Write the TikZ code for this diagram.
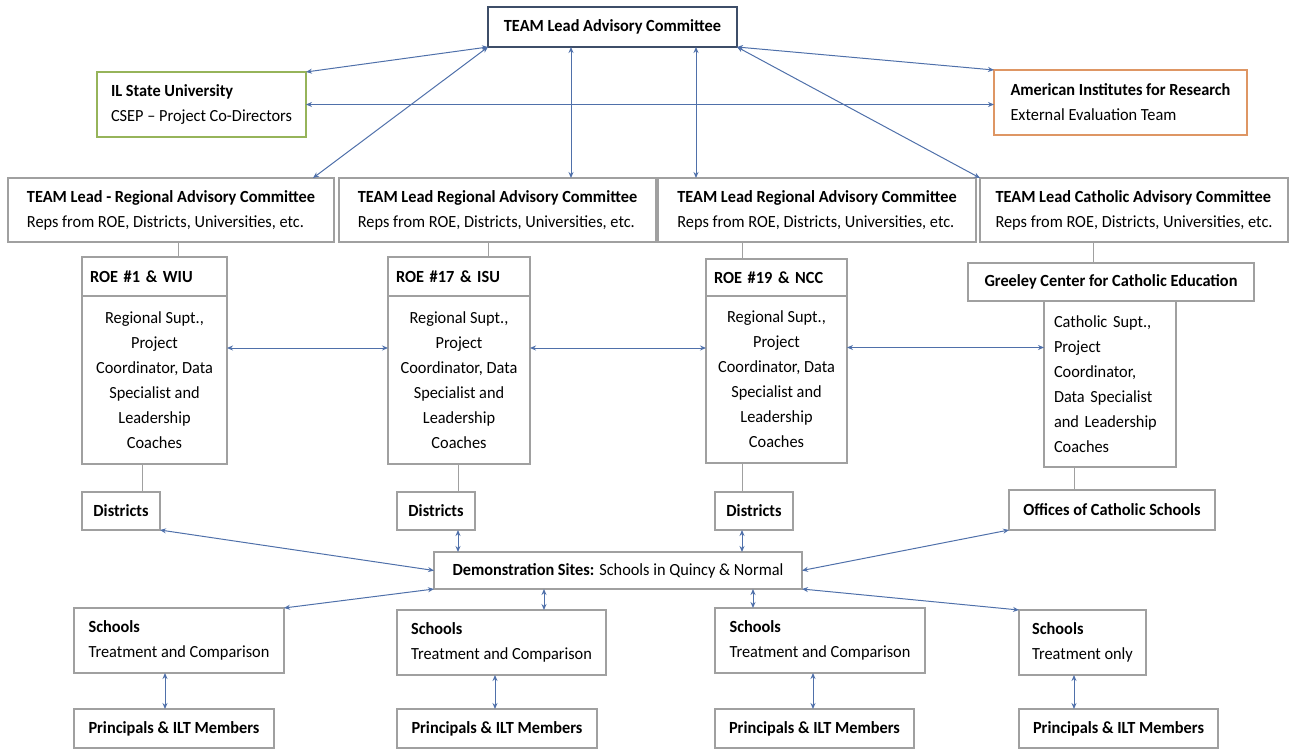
\documentclass[tikz,border=0pt]{standalone}
\usepackage{fontspec}
\setmainfont{Carlito}[FakeStretch=0.96]
\usetikzlibrary{arrows.meta}
\definecolor{boxgray}{RGB}{160,160,160}
\definecolor{arrblue}{RGB}{79,112,170}
\definecolor{topblue}{RGB}{62,78,104}
\definecolor{ilgreen}{RGB}{150,180,90}
\definecolor{airorange}{RGB}{222,150,100}

\begin{document}
\begin{tikzpicture}[x=1pt,y=-1pt,font=\fontsize{17}{25}\selectfont,
  box/.style={draw=boxgray,line width=1.3pt,anchor=north west,inner xsep=8pt,inner ysep=0pt,outer sep=0pt},
  lbox/.style={box,align=left},
  cbox/.style={box,align=center},
  link/.style={draw=boxgray,line width=1pt},
  arr/.style={draw=arrblue,line width=1pt,{Stealth[length=6pt,width=5pt]}-{Stealth[length=6pt,width=5pt]}}]
\useasboundingbox (0,0) rectangle (1290,751);

% top level
\node[cbox,draw=topblue,minimum width=249pt,minimum height=40pt] (lead) at (488,7) {\textbf{TEAM Lead Advisory Committee}};
\node[lbox,draw=ilgreen,minimum width=209pt,minimum height=65pt] (isu) at (97,72) {\textbf{IL State University}\\CSEP – Project Co-Directors};
\node[lbox,draw=airorange,minimum width=253pt,minimum height=65pt] (air) at (994,70) {\textbf{American Institutes for Research}\\External Evaluation Team};

% advisory committees
\node[lbox,minimum width=326pt,minimum height=64pt] (reg1) at (8,178) {\textbf{TEAM Lead - Regional Advisory Committee}\\Reps from ROE, Districts, Universities, etc.};
\node[lbox,minimum width=317pt,minimum height=64pt] (reg2) at (339,178) {\textbf{TEAM Lead Regional Advisory Committee}\\Reps from ROE, Districts, Universities, etc.};
\node[lbox,minimum width=318pt,minimum height=64pt] (reg3) at (658,178) {\textbf{TEAM Lead Regional Advisory Committee}\\Reps from ROE, Districts, Universities, etc.};
\node[lbox,minimum width=308pt,minimum height=64pt] (reg4) at (980,178) {\textbf{TEAM Lead Catholic Advisory Committee}\\Reps from ROE, Districts, Universities, etc.};

% regional offices
\node[lbox,text width=129pt,minimum height=39pt] (roe1h) at (82,257) {\textbf{ROE \#1 \& WIU}};
\node[cbox,minimum width=145pt,minimum height=168pt,inner xsep=2pt] (roe1b) at (82,296) {Regional Supt.,\\Project\\Coordinator, Data\\Specialist and\\Leadership\\Coaches};
\node[lbox,text width=126pt,minimum height=39pt] (roe17h) at (388,257) {\textbf{ROE \#17 \& ISU}};
\node[cbox,minimum width=142pt,minimum height=168pt,inner xsep=2pt] (roe17b) at (388,296) {Regional Supt.,\\Project\\Coordinator, Data\\Specialist and\\Leadership\\Coaches};
\node[lbox,text width=125pt,minimum height=37pt] (roe19h) at (706,259) {\textbf{ROE \#19 \& NCC}};
\node[cbox,minimum width=141pt,minimum height=167pt,inner xsep=2pt] (roe19b) at (706,296) {Regional Supt.,\\Project\\Coordinator, Data\\Specialist and\\Leadership\\Coaches};
\node[cbox,minimum width=286pt,minimum height=38pt] (greh) at (968,263) {\textbf{Greeley Center for Catholic Education}};
\node[lbox,text width=112pt,minimum height=166pt,inner xsep=10pt] (greb) at (1044,301) {Catholic Supt.,\\Project\\Coordinator,\\Data Specialist\\and Leadership\\Coaches};

% districts and sites
\node[cbox,minimum width=78pt,minimum height=38pt] (dist1) at (82,492) {\textbf{Districts}};
\node[cbox,minimum width=78pt,minimum height=38pt] (dist2) at (397,492) {\textbf{Districts}};
\node[cbox,minimum width=78pt,minimum height=38pt] (dist3) at (715,492) {\textbf{Districts}};
\node[cbox,minimum width=206pt,minimum height=40pt] (ocs) at (1009,490) {\textbf{Offices of Catholic Schools}};
\node[cbox,minimum width=368pt,minimum height=37pt] (demo) at (434,552) {\textbf{Demonstration Sites:} Schools in Quincy \& Normal};

% schools
\node[lbox,minimum width=210pt,minimum height=65pt] (sch1) at (74,608) {\textbf{Schools}\\Treatment and Comparison};
\node[lbox,minimum width=209pt,minimum height=65pt] (sch2) at (397,610) {\textbf{Schools}\\Treatment and Comparison};
\node[lbox,minimum width=210pt,minimum height=65pt] (sch3) at (715,608) {\textbf{Schools}\\Treatment and Comparison};
\node[lbox,minimum width=127pt,minimum height=65pt] (sch4) at (1019,610) {\textbf{Schools}\\Treatment only};
\foreach \i/\x/\w in {1/74/200,2/397/200,3/715/199,4/1019/199}
  \node[cbox,minimum width=\w pt,minimum height=39pt] (prin\i) at (\x,709) {\textbf{Principals \& ILT Members}};

% links
\draw[link] ([xshift=23.5pt]roe1h.north) coordinate (l1) -- (l1 |- reg1.south);
\draw[link] ([xshift=29pt]roe17h.north) coordinate (l2) -- (l2 |- reg2.south);
\draw[link] ([xshift=-34.5pt]roe19h.north) coordinate (l3) -- (l3 |- reg3.south);
\draw[link] ([xshift=-18pt]greh.north) coordinate (l4) -- (l4 |- reg4.south);
\draw[link] ([xshift=21pt]dist1.north) coordinate (m1) -- (m1 |- roe1b.south);
\draw[link] ([xshift=22pt]dist2.north) coordinate (m2) -- (m2 |- roe17b.south);
\draw[link] ([xshift=-12pt]dist3.north) coordinate (m3) -- (m3 |- roe19b.south);
\draw[link] ([xshift=-38pt]ocs.north) coordinate (m4) -- (m4 |- greb.south);

% arrows
\draw[arr] (lead.south west) -- (isu.north east);
\draw[arr] (lead.south west) -- ([xshift=-21pt]reg1.north east);
\draw[arr] (isu.east) -- (isu.east -| air.west);
\draw[arr] (lead.south east) -- (air.north west);
\draw[arr] (lead.south east) -- (reg4.north west);
\draw[arr] ([xshift=-41.5pt]lead.south) coordinate (v1) -- (v1 |- reg2.north);
\draw[arr] ([xshift=83.5pt]lead.south) coordinate (v2) -- (v2 |- reg3.north);
\draw[arr] ([yshift=32pt]roe1b.east) coordinate (h1) -- (h1 -| roe17b.west);
\draw[arr] ([yshift=32pt]roe17b.east) coordinate (h2) -- (h2 -| roe19b.west);
\draw[arr] ([yshift=32pt]roe19b.east) coordinate (h3) -- (h3 -| greb.west);
\draw[arr] (dist1.south east) -- (demo.west);
\draw[arr] ([xshift=22pt]dist2.south) coordinate (d2) -- (d2 |- demo.north);
\draw[arr] ([xshift=-12pt]dist3.south) coordinate (d3) -- (d3 |- demo.north);
\draw[arr] (ocs.south west) -- (demo.east);
\draw[arr] (demo.south west) -- (sch1.north east);
\draw[arr] ([xshift=42.5pt]sch2.north) coordinate (s2) -- (s2 |- demo.south);
\draw[arr] ([xshift=-67pt]sch3.north) coordinate (s3) -- (s3 |- demo.south);
\draw[arr] (demo.south east) -- (sch4.north west);
\draw[arr] ([xshift=-14pt]sch1.south) coordinate (p1) -- (p1 |- prin1.north);
\draw[arr] ([xshift=-6.5pt]sch2.south) coordinate (p2) -- (p2 |- prin2.north);
\draw[arr] ([xshift=-7pt]sch3.south) coordinate (p3) -- (p3 |- prin3.north);
\draw[arr] ([xshift=-8.5pt]sch4.south) coordinate (p4) -- (p4 |- prin4.north);
\end{tikzpicture}
\end{document}
